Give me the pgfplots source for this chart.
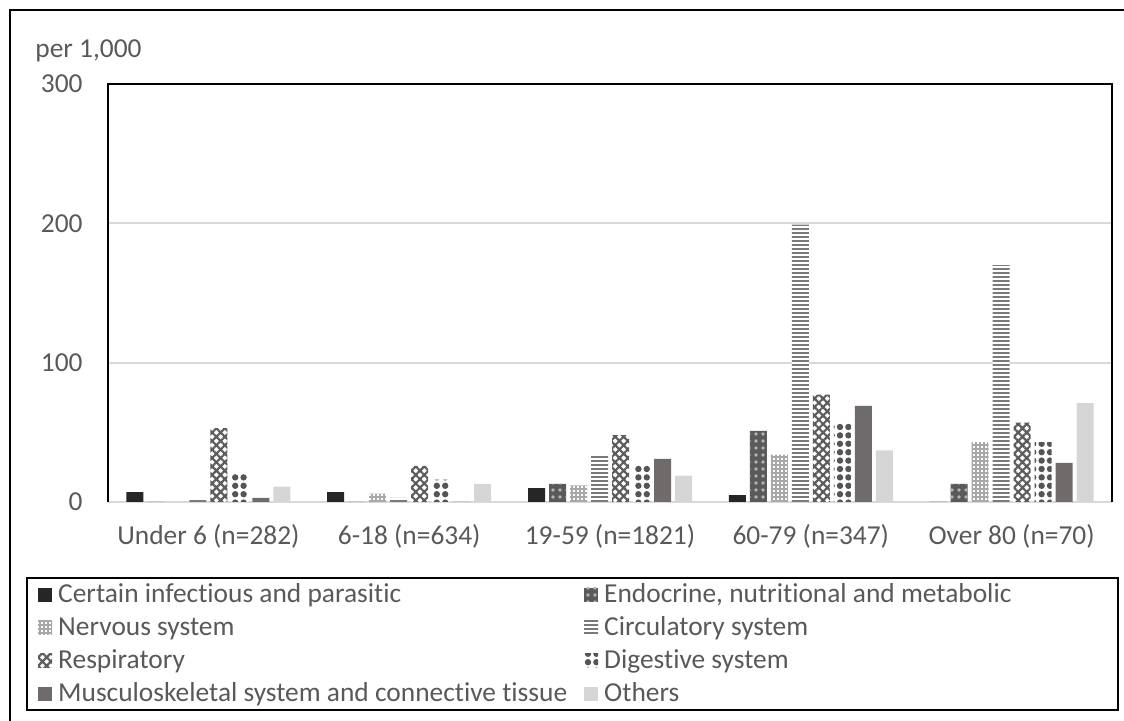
\documentclass[border=0pt]{standalone}
\usepackage{fontspec}
\setmainfont[Ligatures=NoCommon]{Carlito}
\usepackage{pgfplots}
\pgfplotsset{compat=1.18}
\usetikzlibrary{patterns,patterns.meta}
\definecolor{txt}{HTML}{595959}
\definecolor{gridc}{HTML}{D9D9D9}
\definecolor{cA}{HTML}{262626}
\definecolor{cB}{HTML}{5A5A5A}
\definecolor{cBd}{HTML}{B4B4B4}
\definecolor{cC}{HTML}{A8A8A8}
\definecolor{cD}{HTML}{7A7A7A}
\definecolor{cE}{HTML}{5C5C5C}
\definecolor{cF}{HTML}{555555}
\definecolor{cG}{HTML}{6F6B6B}
\definecolor{cH}{HTML}{D6D6D6}
\pgfplotsset{
  leg/.style={legend image code/.code={\path[##1,draw=none] (0pt,-3.5pt) rectangle (7pt,3.5pt);}},
}
\newcommand{\Lone}[1]{\hspace{3pt}\makebox[263pt][l]{#1}}
\newcommand{\Ltwo}[1]{\hspace{3pt}\makebox[251.5pt][l]{#1}}
\newcommand{\fnt}{\fontsize{13.7}{16}\selectfont}
\begin{document}
\begin{tikzpicture}[font=\fnt]
\useasboundingbox (0pt,0pt) rectangle (562pt,360.5pt);
\draw[line width=1.2pt] (5pt,-20pt) -- (5pt,355.5pt) -- (600pt,355.5pt);
\begin{axis}[
  at={(54pt,109.5pt)}, anchor=south west,
  scale only axis, width=502pt, height=209pt,
  xmin=-0.5, xmax=4.5, ymin=0, ymax=300,
  ytick={0,100,200,300},
  xtick={0,1,2,3,4},
  xticklabels={Under 6 (n=282), 6-18 (n=634), 19-59 (n=1821), 60-79 (n=347), Over 80 (n=70)},
  major tick length=0pt,
  axis line style={draw=none},
  ymajorgrids, grid style={draw=gridc, line width=1pt},
  ybar=2pt, bar width=8.5pt,
  clip=false,
  /pgf/number format/assume math mode=true,
  tick label style={font=\fnt, text=txt},
  xticklabel style={anchor=base, yshift=-21.5pt, inner sep=0pt},
  yticklabel style={anchor=east, inner sep=0pt, xshift=-12.5pt},
  legend columns=2,
  legend cell align=left,
  legend style={at={(axis description cs:-0.08167,-0.17943)}, anchor=north west,
    draw=black, line width=1.2pt, inner xsep=5.5pt, inner ysep=0pt,
    row sep=0pt, column sep=0pt,
    nodes={inner sep=0pt, text=txt, text height=12.25pt, text depth=4.25pt},
    font=\fnt},
]
\addplot[fill=cA, draw=none, leg] coordinates {(0,7) (1,7) (2,10) (3,5) (4,0)};
\addlegendentry{\Lone{Certain infectious and parasitic}}
\addplot[fill=cB, draw=none, leg, postaction={pattern={Dots[radius=0.9pt, distance=3.5pt]}, pattern color=cBd}] coordinates {(0,0) (1,0) (2,13) (3,51) (4,13)};
\addlegendentry{\Ltwo{Endocrine, nutritional and metabolic}}
\addplot[fill=white, draw=none, leg, postaction={pattern={Hatch[angle=0, distance=2pt, line width=0.7pt]}, pattern color=cC}] coordinates {(0,0) (1,6) (2,12) (3,34) (4,43)};
\addlegendentry{\Lone{Nervous system}}
\addplot[fill=white, draw=none, leg, postaction={pattern={Lines[angle=0, distance=2pt, line width=1pt]}, pattern color=cD}] coordinates {(0,2) (1,3) (2,34) (3,199) (4,170)};
\addlegendentry{\Ltwo{Circulatory system}}
\addplot[fill=white, draw=none, leg, postaction={pattern={Hatch[angle=45, distance=3pt, line width=1.1pt]}, pattern color=cE}] coordinates {(0,53) (1,26) (2,48) (3,77) (4,57)};
\addlegendentry{\Lone{Respiratory}}
\addplot[fill=white, draw=none, leg, postaction={pattern={Dots[radius=1.6pt, distance=4.2pt]}, pattern color=cF}] coordinates {(0,21) (1,16) (2,26) (3,57) (4,43)};
\addlegendentry{\Ltwo{Digestive system}}
\addplot[fill=cG, draw=none, leg] coordinates {(0,3) (1,0) (2,31) (3,69) (4,28)};
\addlegendentry{\Lone{Musculoskeletal system and connective tissue}}
\addplot[fill=cH, draw=none, leg] coordinates {(0,11) (1,13) (2,19) (3,37) (4,71)};
\addlegendentry{\Ltwo{Others}}
\draw[black, line width=1.2pt] (rel axis cs:0,0) -- (rel axis cs:0,1) -- (rel axis cs:1,1) -- (rel axis cs:1,0);
\end{axis}
\node[anchor=base west, inner sep=0pt, text=txt] at (17.5pt,331.5pt) {per 1,000};
\end{tikzpicture}
\end{document}
